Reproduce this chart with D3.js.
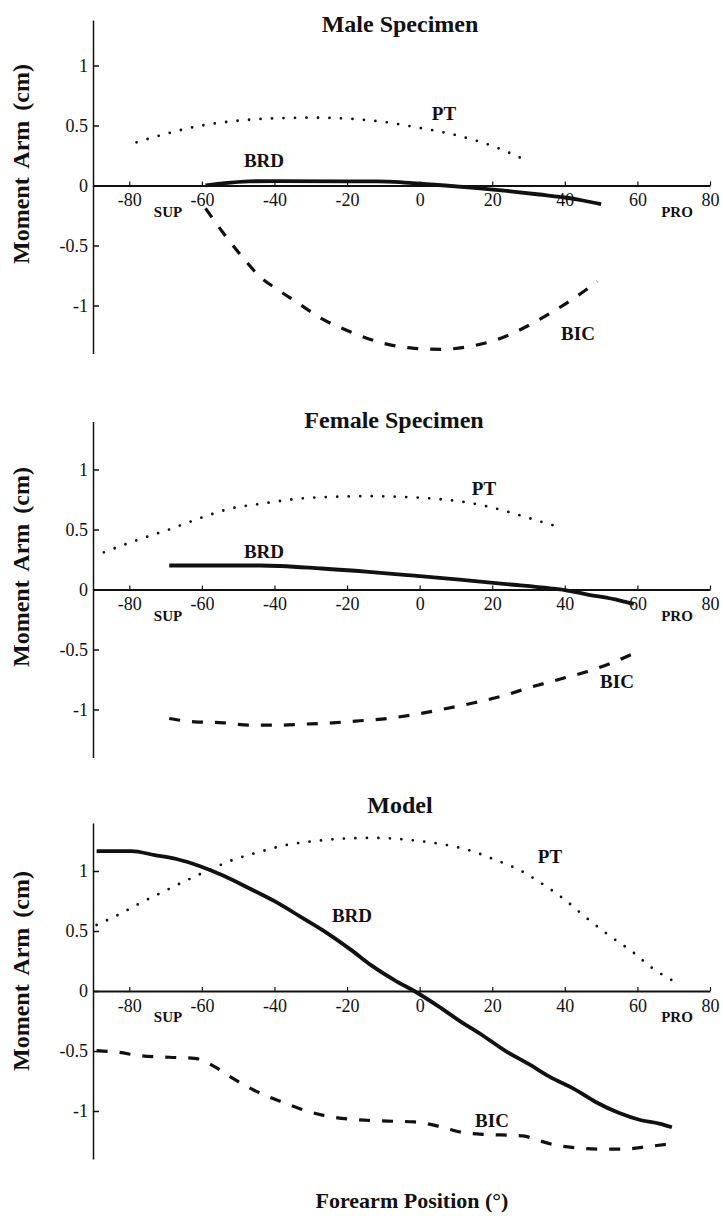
<!DOCTYPE html>
<html>
<head>
<meta charset="utf-8">
<script src="https://cdn.jsdelivr.net/npm/d3@7"></script>
<style>
  body { margin:0; background:#fff; }
  svg { display:block; font-family:"Liberation Serif","Times New Roman",serif; }
  .tick text { font-size:18px; fill:#111; font-family:"Liberation Serif","Times New Roman",serif; }
  .lbl { font-weight:bold; fill:#111; }
</style>
</head>
<body>
<svg id="chart" width="723" height="1216"></svg>
<script>
// forearm position (deg) vs moment arm (cm)
const xTicks = [-80,-60,-40,-20,0,20,40,60,80];
const yTicks = [1,0.5,0,-0.5,-1];

const malePT  = [[-78,0.36],[-70,0.43],[-60,0.50],[-50,0.54],[-40,0.56],[-30,0.565],[-20,0.557],[-10,0.53],[0,0.48],[10,0.42],[20,0.33],[30,0.2]];
const maleBRD = [[-59,0],[-55,0.015],[-47,0.035],[-40,0.037],[-20,0.035],[-9,0.033],[-2,0.02],[7,0],[15,-0.02],[24,-0.045],[33,-0.075],[40,-0.1],[45,-0.125],[50,-0.155]];
const maleBIC = [[-59,-0.19],[-54,-0.4],[-49,-0.59],[-44,-0.76],[-39,-0.87],[-34,-0.97],[-27,-1.11],[-19,-1.22],[-10,-1.315],[-1.5,-1.357],[6,-1.365],[13.5,-1.343],[21,-1.287],[28.5,-1.19],[36,-1.064],[42.5,-0.94],[49,-0.8]];

const femalePT  = [[-87,0.31],[-78,0.41],[-69,0.5],[-60,0.6],[-52,0.675],[-43,0.717],[-33,0.758],[-24,0.772],[-14,0.778],[-5,0.772],[3.5,0.758],[12,0.73],[19,0.69],[26,0.633],[32,0.578],[39,0.515]];
const femaleBRD = [[-69,0.2],[-44,0.2],[-27,0.175],[-14,0.147],[-1.5,0.115],[11,0.082],[24,0.045],[36,0.01],[40,-0.005],[46,-0.04],[55,-0.09],[59,-0.12]];
const femaleBIC = [[-69,-1.075],[-62,-1.103],[-54,-1.111],[-47,-1.131],[-39,-1.131],[-32,-1.122],[-24,-1.111],[-16.5,-1.094],[-9,-1.075],[-1.5,-1.042],[6,-1.0],[15,-0.944],[22,-0.894],[31,-0.811],[40,-0.736],[46,-0.686],[52.5,-0.617],[58.5,-0.54]];

const modelPT  = [[-89,0.55],[-83,0.635],[-77,0.732],[-70.5,0.829],[-64,0.925],[-58,1.008],[-52,1.086],[-44,1.16],[-37,1.215],[-29,1.249],[-20,1.271],[-11.5,1.276],[-4,1.262],[5,1.229],[13.5,1.174],[21,1.091],[27.5,1.008],[33.5,0.898],[40,0.76],[46,0.608],[52.5,0.456],[59,0.318],[64,0.193],[69.5,0.09]];
const modelBRD = [[-89,1.166],[-79.5,1.166],[-73,1.133],[-67,1.1],[-60.5,1.04],[-54,0.96],[-47,0.856],[-39,0.732],[-33,0.622],[-25.5,0.483],[-19,0.345],[-13,0.207],[-6.5,0.083],[-1.5,0],[5,-0.124],[11,-0.249],[17.5,-0.373],[23.5,-0.497],[30,-0.608],[36,-0.718],[42.5,-0.815],[48.5,-0.925],[55,-1.017],[61,-1.077],[66,-1.105],[69.5,-1.135]];
const modelBIC = [[-89,-0.497],[-83,-0.511],[-77,-0.539],[-69,-0.552],[-62,-0.561],[-57,-0.622],[-52,-0.718],[-45.5,-0.829],[-39,-0.912],[-33,-0.981],[-26.5,-1.036],[-19,-1.069],[-10,-1.083],[-1.5,-1.091],[6,-1.133],[12,-1.18],[18.5,-1.196],[25,-1.202],[28.5,-1.207],[32.5,-1.243],[37.5,-1.285],[43.5,-1.307],[50,-1.318],[56,-1.318],[62.5,-1.298],[69.5,-1.271]];

const panels = [
  { title:'Male Specimen', zero:185.5, top:1.38, titleX:400, titleY:32, ylabY:164,
    pt:malePT, brd:maleBRD, bic:maleBIC,
    lab:{PT:[444,120], BRD:[264,167], BIC:[578,340]} },
  { title:'Female Specimen', zero:589.5, top:1.4, titleX:394, titleY:428, ylabY:567,
    pt:femalePT, brd:femaleBRD, bic:femaleBIC,
    lab:{PT:[484,495], BRD:[264,558], BIC:[617,688]} },
  { title:'Model', zero:991, top:1.4, titleX:400, titleY:813, ylabY:971,
    pt:modelPT, brd:modelBRD, bic:modelBIC,
    lab:{PT:[550,863], BRD:[352,922], BIC:[492,1127]} }
];

const svg = d3.select('#chart');
const x = d3.scaleLinear().domain([-90,80]).range([93,710]);
const line = d3.line().x(d=>x(d[0])).curve(d3.curveMonotoneX);

panels.forEach(p => {
  const y = d3.scaleLinear().domain([-1.4, p.top]).range([p.zero+168, p.zero-120*p.top]);
  const g = svg.append('g');

  // y axis, ticks pointing inward
  const ya = g.append('g').attr('transform','translate(93,0)')
    .call(d3.axisLeft(y).tickValues(yTicks).tickSize(-6).tickSizeOuter(0).tickPadding(5).tickFormat(d=>String(d)))
    .attr('font-family',null).attr('font-size',null);
  ya.select('.domain').attr('stroke','#111').attr('stroke-width',1.5);
  ya.selectAll('.tick line').attr('stroke','#111').attr('stroke-width',1.5);
  ya.selectAll('.tick text').attr('x',-5);

  // x axis along zero line
  const xa = g.append('g').attr('transform',`translate(0,${p.zero})`)
    .call(d3.axisBottom(x).tickValues(xTicks).tickSize(-4).tickSizeOuter(0).tickPadding(10).tickFormat(d=>String(d)))
    .attr('font-family',null).attr('font-size',null);
  xa.select('.domain').attr('stroke','#111').attr('stroke-width',2);
  xa.selectAll('.tick line').attr('stroke','#111').attr('stroke-width',1.2);
  xa.selectAll('.tick text').attr('y',8);

  line.y(d=>y(d[1]));
  g.append('path').attr('d',line(p.pt)).attr('fill','none').attr('stroke','#111')
    .attr('stroke-width',2.8).attr('stroke-linecap','round').attr('stroke-dasharray','0 11.5');
  g.append('path').attr('d',line(p.bic)).attr('fill','none').attr('stroke','#111')
    .attr('stroke-width',3.2).attr('stroke-dasharray','11 12');
  g.append('path').attr('d',line(p.brd)).attr('fill','none').attr('stroke','#111')
    .attr('stroke-width',3.8);

  g.append('text').attr('class','lbl').attr('x',p.titleX).attr('y',p.titleY)
    .attr('text-anchor','middle').attr('font-size',24).text(p.title);
  Object.entries(p.lab).forEach(([k,pos]) => {
    g.append('text').attr('class','lbl').attr('x',pos[0]).attr('y',pos[1])
      .attr('text-anchor','middle').attr('font-size',19).text(k);
  });
  g.append('text').attr('class','lbl').attr('x',168).attr('y',p.zero+31)
    .attr('text-anchor','middle').attr('font-size',15).text('SUP');
  g.append('text').attr('class','lbl').attr('x',677).attr('y',p.zero+31)
    .attr('text-anchor','middle').attr('font-size',15).text('PRO');
  g.append('text').attr('class','lbl').attr('transform',`translate(29,${p.ylabY}) rotate(-90)`)
    .attr('text-anchor','middle').attr('font-size',24).attr('word-spacing',4).text('Moment Arm (cm)');
});

svg.append('text').attr('class','lbl').attr('x',412).attr('y',1208)
  .attr('text-anchor','middle').attr('font-size',22).text('Forearm Position (°)');
</script>
</body>
</html>
